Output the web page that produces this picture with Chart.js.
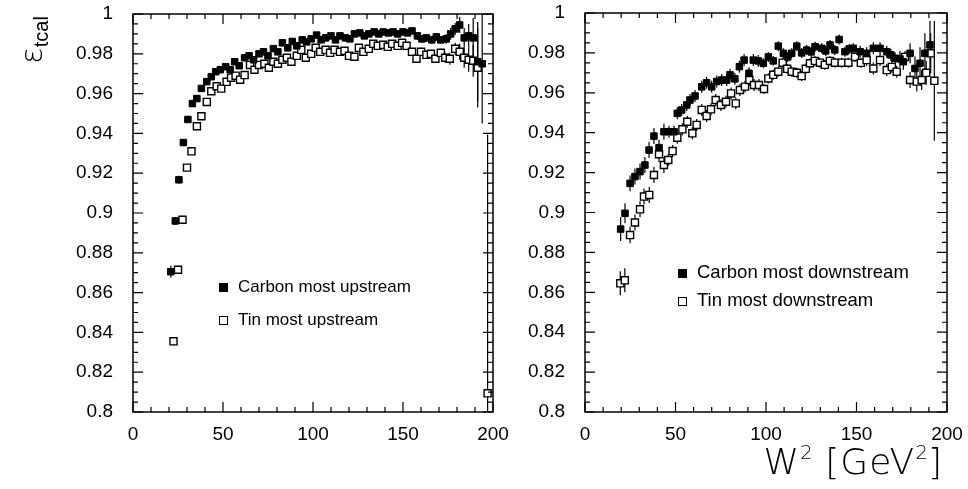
<!DOCTYPE html>
<html>
<head>
<meta charset="utf-8">
<script src="https://cdn.jsdelivr.net/npm/chart.js@4.4.1/dist/chart.umd.min.js"></script>
<style>
  body { margin: 0; background: #fff; }
  #wrap { position: relative; width: 968px; height: 489px; overflow: hidden; font-family: "Liberation Sans", Arial, sans-serif; color: #000; }
  canvas { position: absolute; top: 0; }
  .leg { position: absolute; font-size: 17px; white-space: nowrap; line-height: 20px; }
  .mk { display: inline-block; width: 7px; height: 7px; margin-right: 10px; vertical-align: 0px; border: 1.5px solid #000; }
  .mk.fill { background: #000; }
  .mk.open { background: #fff; }
  #ytitle { position: absolute; left: 16px; top: 64px; transform-origin: left top; transform: rotate(-90deg); white-space: nowrap; line-height: 1; }
  #ytitle .eps { font-size: 31px; font-family: "DejaVu Sans", sans-serif; font-weight: 200; }
  #ytitle sub { font-size: 20px; vertical-align: -6px; }
  #xtitle { position: absolute; right: 25px; top: 442px; font-size: 36px; font-family: "DejaVu Sans", sans-serif; font-weight: 200; letter-spacing: 1px; white-space: nowrap; line-height: 1; }
  #xtitle sup { font-size: 20px; vertical-align: 15px; letter-spacing: 0; }
</style>
</head>
<body>
<div id="wrap">
  <canvas id="leftChart" width="530" height="489" style="left:0"></canvas>
  <canvas id="rightChart" width="516" height="489" style="left:452px"></canvas>

  <div id="ytitle"><span class="eps">ε</span><sub>tcal</sub></div>
  <div id="xtitle">W<sup>2</sup> [GeV<sup>2</sup>]</div>

  <div class="leg" style="left:219px; top:277px"><span class="mk fill"></span>Carbon most upstream</div>
  <div class="leg" style="left:219px; top:310px"><span class="mk open"></span>Tin most upstream</div>
  <div class="leg" style="left:678px; top:262px; font-size:18.5px"><span class="mk fill"></span>Carbon most downstream</div>
  <div class="leg" style="left:678px; top:290px; font-size:18.5px"><span class="mk open"></span>Tin most downstream</div>
</div>

<script>
// tick labels
const xTickLabels = ['0', '50', '100', '150', '200'];
const yTickLabels = ['0.8', '0.82', '0.84', '0.86', '0.88', '0.9', '0.92', '0.94', '0.96', '0.98', '1'];

// left panel: most upstream
const leftCarbonX = [21, 23.5, 25.5, 28, 30.5, 33, 35.5, 38, 41, 43.5, 46, 48.5, 51.5, 54, 56.5, 59, 62, 64.5, 67, 70,
  72.5, 75, 78, 80.5, 83, 86, 88.5, 91, 94, 96.5, 99, 102, 104.5, 107, 110, 112.5, 115, 118, 120.5, 123,
  126, 128.5, 131, 134, 136.5, 139, 142, 144.5, 147, 150, 152.5, 155, 158, 160.5, 163, 166, 168.5, 171, 174, 176.5,
  179, 181.5, 184, 186.5, 189, 191.5, 194];
const leftCarbonY = [0.8705, 0.896, 0.9167, 0.9354, 0.947, 0.955, 0.9575, 0.9626, 0.966, 0.9685,
  0.971, 0.972, 0.9735, 0.972, 0.976, 0.974, 0.978, 0.979, 0.977, 0.980,
  0.981, 0.979, 0.9826, 0.981, 0.9855, 0.983, 0.9862, 0.984, 0.987, 0.986,
  0.9875, 0.9894, 0.987, 0.988, 0.989, 0.987, 0.989, 0.988, 0.9875, 0.990,
  0.9905, 0.989, 0.990, 0.991, 0.990, 0.991, 0.9905, 0.991, 0.990, 0.991,
  0.9905, 0.9915, 0.989, 0.9875, 0.988, 0.987, 0.9885, 0.987, 0.9875, 0.990,
  0.9925, 0.9945, 0.988, 0.989, 0.988, 0.976, 0.975];
const leftCarbonErr = [0.003, 0.002, 0.002, 0.0015, 0.0015, 0.0015, 0.0015, 0.0015, 0.0015, 0.0015,
  0.0015, 0.0015, 0.0015, 0.0015, 0.0015, 0.0015, 0.0015, 0.0015, 0.0015, 0.0015,
  0.0015, 0.0015, 0.0015, 0.0015, 0.0015, 0.0015, 0.0015, 0.0015, 0.0015, 0.0015,
  0.0015, 0.0015, 0.0015, 0.0015, 0.0015, 0.0015, 0.0015, 0.0015, 0.0015, 0.0015,
  0.0015, 0.0015, 0.0015, 0.0015, 0.0015, 0.0015, 0.0015, 0.0015, 0.0015, 0.0015,
  0.0015, 0.0015, 0.002, 0.002, 0.002, 0.002, 0.002, 0.002, 0.0025, 0.003,
  0.003, 0.004, 0.005, 0.006, 0.01, 0.02, 0.03];

const leftTinX = [22.5, 25, 27.5, 30, 32.5, 35.5, 38, 41, 43.5, 46.5, 49, 52, 54.5, 57, 59.5, 62, 65, 67.5, 70, 73,
  75.5, 78, 80.5, 83, 85.5, 88, 91, 93.5, 96, 99, 101.5, 104, 107, 109.5, 112, 115, 117.5, 120, 123, 125.5,
  128, 131, 133.5, 136, 139, 141.5, 144, 147, 149.5, 152, 155, 157.5, 160, 163, 165.5, 168, 171, 173.5, 176, 179,
  181.5, 184, 186.5, 189, 191.5, 197];
const leftTinY = [0.8355, 0.8715, 0.8966, 0.9228, 0.931, 0.9436, 0.9486, 0.9558, 0.9612, 0.9637,
  0.9625, 0.9659, 0.968, 0.969, 0.967, 0.9693, 0.9744, 0.972, 0.9744, 0.975,
  0.973, 0.976, 0.975, 0.977, 0.978, 0.976, 0.979, 0.982, 0.978, 0.980,
  0.983, 0.981, 0.982, 0.9805, 0.982, 0.981, 0.9815, 0.979, 0.9785, 0.983,
  0.981, 0.9825, 0.985, 0.984, 0.9845, 0.9835, 0.985, 0.984, 0.9855, 0.984,
  0.981, 0.9775, 0.981, 0.9795, 0.980, 0.9775, 0.9805, 0.978, 0.9775, 0.9825,
  0.981, 0.978, 0.977, 0.9765, 0.973, 0.8094];
const leftTinErr = [0.002, 0.002, 0.002, 0.0015, 0.0015, 0.0015, 0.0015, 0.0015, 0.0015, 0.0015,
  0.0015, 0.0015, 0.0015, 0.0015, 0.0015, 0.0015, 0.0015, 0.0015, 0.0015, 0.0015,
  0.0015, 0.0015, 0.0015, 0.0015, 0.0015, 0.0015, 0.0015, 0.0015, 0.0015, 0.0015,
  0.0015, 0.0015, 0.0015, 0.0015, 0.0015, 0.0015, 0.0015, 0.0015, 0.0015, 0.0015,
  0.0015, 0.0015, 0.0015, 0.0015, 0.0015, 0.0015, 0.0015, 0.0015, 0.0015, 0.0015,
  0.0015, 0.0015, 0.002, 0.002, 0.002, 0.002, 0.002, 0.0025, 0.003, 0.003,
  0.004, 0.005, 0.006, 0.008, 0.02, 0.13];

// right panel: most downstream
const rightCarbonX = [19.7, 22.1, 24.9, 27.6, 30.4, 33.1, 35.4, 38.1, 40.9, 43.6, 46.4, 49.2, 51, 53.4, 56.2,
  58, 60.8, 64.5, 67.2, 70, 72.8, 75.5, 78.3, 80.1, 82.8, 85.3, 87.9, 90.6, 93, 95.7,
  98.5, 101.3, 104, 106.8, 109.6, 112, 114.2, 117, 119.7, 122.5, 125, 127.1, 130.8, 133, 135.4,
  138, 140.4, 143.6, 146, 148.2, 152, 155.6, 159.3, 163, 166.7, 169, 171.3, 174, 175.9, 179.6,
  182.3, 185.1, 187.8, 190.6];
const rightCarbonY = [0.8917, 0.8996, 0.9146, 0.918, 0.9205, 0.9238, 0.9313, 0.9383, 0.9325, 0.9405,
  0.9405, 0.9405, 0.9497, 0.9514, 0.9539, 0.9564, 0.9584, 0.963, 0.965, 0.963,
  0.9657, 0.9664, 0.9664, 0.969, 0.967, 0.9731, 0.9764, 0.9698, 0.9764, 0.976,
  0.9748, 0.978, 0.976, 0.9834, 0.9798, 0.978, 0.9798, 0.9834, 0.980, 0.9814,
  0.9805, 0.9831, 0.9823, 0.981, 0.984, 0.9815, 0.9867, 0.9806, 0.982, 0.9823,
  0.9806, 0.9798, 0.9823, 0.9823, 0.9806, 0.979, 0.9773, 0.977, 0.9756, 0.9798,
  0.9722, 0.9748, 0.9798, 0.984];
const rightCarbonErr = [0.006, 0.005, 0.004, 0.004, 0.004, 0.004, 0.004, 0.004, 0.004, 0.004,
  0.003, 0.003, 0.003, 0.003, 0.003, 0.003, 0.003, 0.003, 0.003, 0.003,
  0.003, 0.003, 0.003, 0.003, 0.003, 0.003, 0.003, 0.003, 0.003, 0.003,
  0.0025, 0.0025, 0.0025, 0.0025, 0.0025, 0.0025, 0.0025, 0.0025, 0.0025, 0.0025,
  0.0025, 0.0025, 0.0025, 0.0025, 0.0025, 0.0025, 0.0025, 0.0025, 0.0025, 0.0025,
  0.003, 0.003, 0.003, 0.003, 0.003, 0.003, 0.003, 0.004, 0.004, 0.005,
  0.006, 0.008, 0.01, 0.012];

const rightTinX = [19.5, 22, 24.9, 27.6, 30.4, 32.6, 35.5, 38.1, 40.9, 43.6, 46, 48.4, 51, 53.8, 56.5,
  59.3, 61.7, 64.5, 67.2, 69.6, 72.2, 75.1, 77.9, 80.7, 83.3, 85.6, 88.4, 90.8, 93.4, 96.1,
  98.9, 101.3, 104, 106.8, 109.2, 111.7, 114.2, 117, 119.7, 122, 124.3, 127, 129.8, 132.5, 135.3,
  138.1, 141.8, 145.5, 149.2, 152.4, 155.6, 159.3, 163, 166.7, 169.5, 172.2, 176.8, 179.6, 183.3, 186,
  188.5, 191, 193];
const rightTinY = [0.8645, 0.866, 0.8887, 0.895, 0.9016, 0.908, 0.9088, 0.9188, 0.9292, 0.9238,
  0.9263, 0.9308, 0.9375, 0.9417, 0.9455, 0.9397, 0.9439, 0.9514, 0.9484, 0.9517,
  0.9564, 0.9539, 0.9555, 0.9597, 0.9547, 0.9614, 0.9631, 0.9664, 0.9639, 0.9639,
  0.9619, 0.9672, 0.969, 0.9706, 0.9751, 0.972, 0.9706, 0.970, 0.9684, 0.972,
  0.9748, 0.976, 0.9751, 0.974, 0.976, 0.9751, 0.9751, 0.9751, 0.978, 0.975,
  0.9764, 0.9722, 0.9764, 0.9714, 0.973, 0.9706, 0.978, 0.9664, 0.9656, 0.9664,
  0.970, 0.9798, 0.966];
const rightTinErr = [0.006, 0.006, 0.004, 0.004, 0.004, 0.004, 0.004, 0.004, 0.004, 0.004,
  0.003, 0.003, 0.003, 0.003, 0.003, 0.003, 0.003, 0.003, 0.003, 0.003,
  0.003, 0.003, 0.003, 0.003, 0.003, 0.003, 0.003, 0.003, 0.003, 0.003,
  0.0025, 0.0025, 0.0025, 0.0025, 0.0025, 0.0025, 0.0025, 0.0025, 0.0025, 0.0025,
  0.0025, 0.0025, 0.0025, 0.0025, 0.0025, 0.0025, 0.0025, 0.0025, 0.0025, 0.0025,
  0.003, 0.003, 0.003, 0.003, 0.003, 0.003, 0.003, 0.004, 0.005, 0.005,
  0.006, 0.01, 0.03];

const FONT = '"Liberation Sans", Arial, sans-serif';

function toPoints(xs, ys) {
  return xs.map((x, i) => ({ x: x, y: ys[i] }));
}

// vertical error bars, drawn under the markers
const errorBars = {
  id: 'errorBars',
  beforeDatasetsDraw(chart) {
    const { ctx, chartArea, scales } = chart;
    ctx.save();
    ctx.beginPath();
    ctx.rect(chartArea.left, chartArea.top, chartArea.right - chartArea.left, chartArea.bottom - chartArea.top);
    ctx.clip();
    ctx.strokeStyle = '#000';
    ctx.lineWidth = 1.2;
    chart.data.datasets.forEach(ds => {
      ds.data.forEach((p, i) => {
        const e = ds.errors[i];
        const px = scales.x.getPixelForValue(p.x);
        ctx.beginPath();
        ctx.moveTo(px, scales.y.getPixelForValue(p.y - e));
        ctx.lineTo(px, scales.y.getPixelForValue(p.y + e));
        ctx.stroke();
      });
    });
    ctx.restore();
  }
};

// frame with inward ticks on all four sides
const frameTicks = {
  id: 'frameTicks',
  afterDraw(chart) {
    const { ctx, chartArea: a, scales } = chart;
    ctx.save();
    ctx.strokeStyle = '#000';
    ctx.lineWidth = 1.5;
    ctx.strokeRect(a.left, a.top, a.right - a.left, a.bottom - a.top);
    ctx.lineWidth = 1.2;
    ctx.beginPath();
    for (let v = 0; v <= 200; v += 10) {
      const px = scales.x.getPixelForValue(v);
      const len = v % 50 === 0 ? 10 : 5;
      ctx.moveTo(px, a.bottom); ctx.lineTo(px, a.bottom - len);
      ctx.moveTo(px, a.top); ctx.lineTo(px, a.top + len);
    }
    for (let k = 0; k <= 40; k++) {
      const py = scales.y.getPixelForValue(0.8 + k * 0.005);
      const len = k % 4 === 0 ? 10 : 5;
      ctx.moveTo(a.left, py); ctx.lineTo(a.left + len, py);
      ctx.moveTo(a.right, py); ctx.lineTo(a.right - len, py);
    }
    ctx.stroke();
    ctx.restore();
  }
};

function makeChart(id, carbon, tin, yAxisWidth, pad) {
  const ctx = document.getElementById(id).getContext('2d');
  return new Chart(ctx, {
    type: 'scatter',
    data: {
      datasets: [
        {
          label: carbon.label,
          data: toPoints(carbon.x, carbon.y),
          errors: carbon.err,
          pointStyle: 'rect',
          pointRadius: 4.6,
          backgroundColor: '#000',
          borderColor: '#000',
          borderWidth: 1
        },
        {
          label: tin.label,
          data: toPoints(tin.x, tin.y),
          errors: tin.err,
          pointStyle: 'rect',
          pointRadius: 5,
          backgroundColor: '#fff',
          borderColor: '#000',
          borderWidth: 1.4
        }
      ]
    },
    options: {
      responsive: false,
      animation: false,
      devicePixelRatio: 1,
      layout: { padding: pad },
      plugins: { legend: { display: false }, tooltip: { enabled: false } },
      scales: {
        x: {
          type: 'linear',
          min: 0,
          max: 200,
          grid: { display: false, drawTicks: false },
          border: { display: false },
          afterFit: s => {
            s.height = 489 - 412;
            s.paddingLeft = 0;
            s.paddingRight = 0;
          },
          ticks: {
            stepSize: 50,
            padding: 11,
            color: '#000',
            maxRotation: 0,
            font: { family: FONT, size: 19 },
            callback: (v, i) => xTickLabels[i]
          }
        },
        y: {
          type: 'linear',
          min: 0.8,
          max: 1,
          grid: { display: false, drawTicks: false },
          border: { display: false },
          afterFit: s => {
            s.width = yAxisWidth;
            s.paddingTop = 0;
            s.paddingBottom = 0;
          },
          ticks: {
            stepSize: 0.02,
            padding: 20,
            color: '#000',
            font: { family: FONT, size: 19 },
            callback: (v, i) => yTickLabels[i]
          }
        }
      }
    },
    plugins: [errorBars, frameTicks]
  });
}

makeChart('leftChart',
  { label: 'Carbon most upstream', x: leftCarbonX, y: leftCarbonY, err: leftCarbonErr },
  { label: 'Tin most upstream', x: leftTinX, y: leftTinY, err: leftTinErr },
  133, { left: 0, top: 14, right: 37, bottom: 0 });

makeChart('rightChart',
  { label: 'Carbon most downstream', x: rightCarbonX, y: rightCarbonY, err: rightCarbonErr },
  { label: 'Tin most downstream', x: rightTinX, y: rightTinY, err: rightTinErr },
  133, { left: 0, top: 13, right: 21, bottom: 0 });
</script>
</body>
</html>
